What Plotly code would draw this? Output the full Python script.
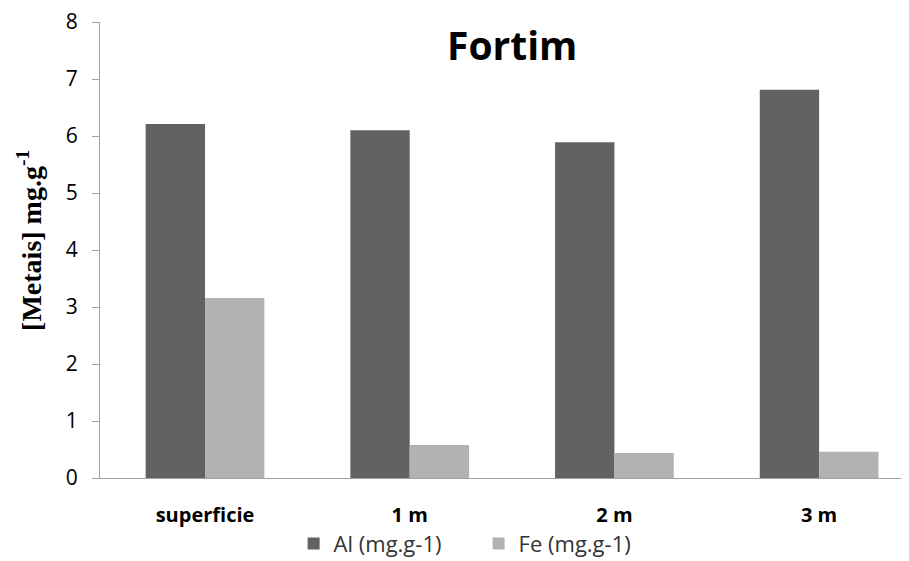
import plotly.graph_objects as go

categories = ["superficie", "1 m", "2 m", "3 m"]
al_values = [6.21, 6.10, 5.89, 6.81]
fe_values = [3.16, 0.58, 0.44, 0.46]
y_ticks = [0, 1, 2, 3, 4, 5, 6, 7, 8]

fig = go.Figure()
fig.add_trace(go.Bar(x=categories, y=al_values, name="Al (mg.g-1)",
                     marker=dict(color="#626262", line=dict(width=0))))
fig.add_trace(go.Bar(x=categories, y=fe_values, name="Fe (mg.g-1)",
                     marker=dict(color="#b2b2b2", line=dict(width=0))))

# page body has an 8px default margin, so the figure is offset by (8, 8)
fig.update_layout(
    width=909, height=561,
    margin=dict(l=92, r=8, t=14, b=91, autoexpand=False),
    paper_bgcolor="white", plot_bgcolor="white",
    barmode="group", bargap=0.42, bargroupgap=0,
    font=dict(family="Open Sans", color="black"),
    showlegend=True,
    legend=dict(orientation="h", x=0.468, xanchor="center", xref="paper",
                y=0.045, yanchor="middle", yref="container",
                bgcolor="rgba(0,0,0,0)", entrywidth=140, entrywidthmode="pixels",
                itemwidth=30,
                font=dict(family="Open Sans", size=22, color="#333"), traceorder="normal"),
    xaxis=dict(type="category", range=[-0.513, 3.439], showline=True, linecolor="#a0a0a0",
               linewidth=1, ticks="", showgrid=False, zeroline=False, automargin=False,
               tickfont=dict(family="Open Sans", size=20, color="black", weight="bold"),
               ticklabelstandoff=19, ticklabeloverflow="allow"),
    yaxis=dict(range=[0, 8], tickvals=y_ticks, showline=True, linecolor="#a0a0a0", linewidth=1,
               ticks="outside", ticklen=7, tickcolor="#a0a0a0", showgrid=False, zeroline=False,
               automargin=False, ticklabeloverflow="allow",
               tickfont=dict(family="Open Sans", size=21, color="black"),
               ticklabelstandoff=10),
    annotations=[
        dict(text="<b>Fortim</b>", xref="paper", yref="paper", x=0.509, y=0.95,
             xanchor="center", yanchor="middle", showarrow=False,
             font=dict(family="Open Sans", size=39, color="black")),
        dict(text="<b>[Metais] mg.g<sup>-1</sup></b>", xref="paper", yref="paper",
             x=-0.0865, y=0.52, xanchor="center", yanchor="middle", textangle=-90,
             showarrow=False, font=dict(family="Liberation Serif", size=28, color="black")),
    ],
)

fig.write_html("out.html")
